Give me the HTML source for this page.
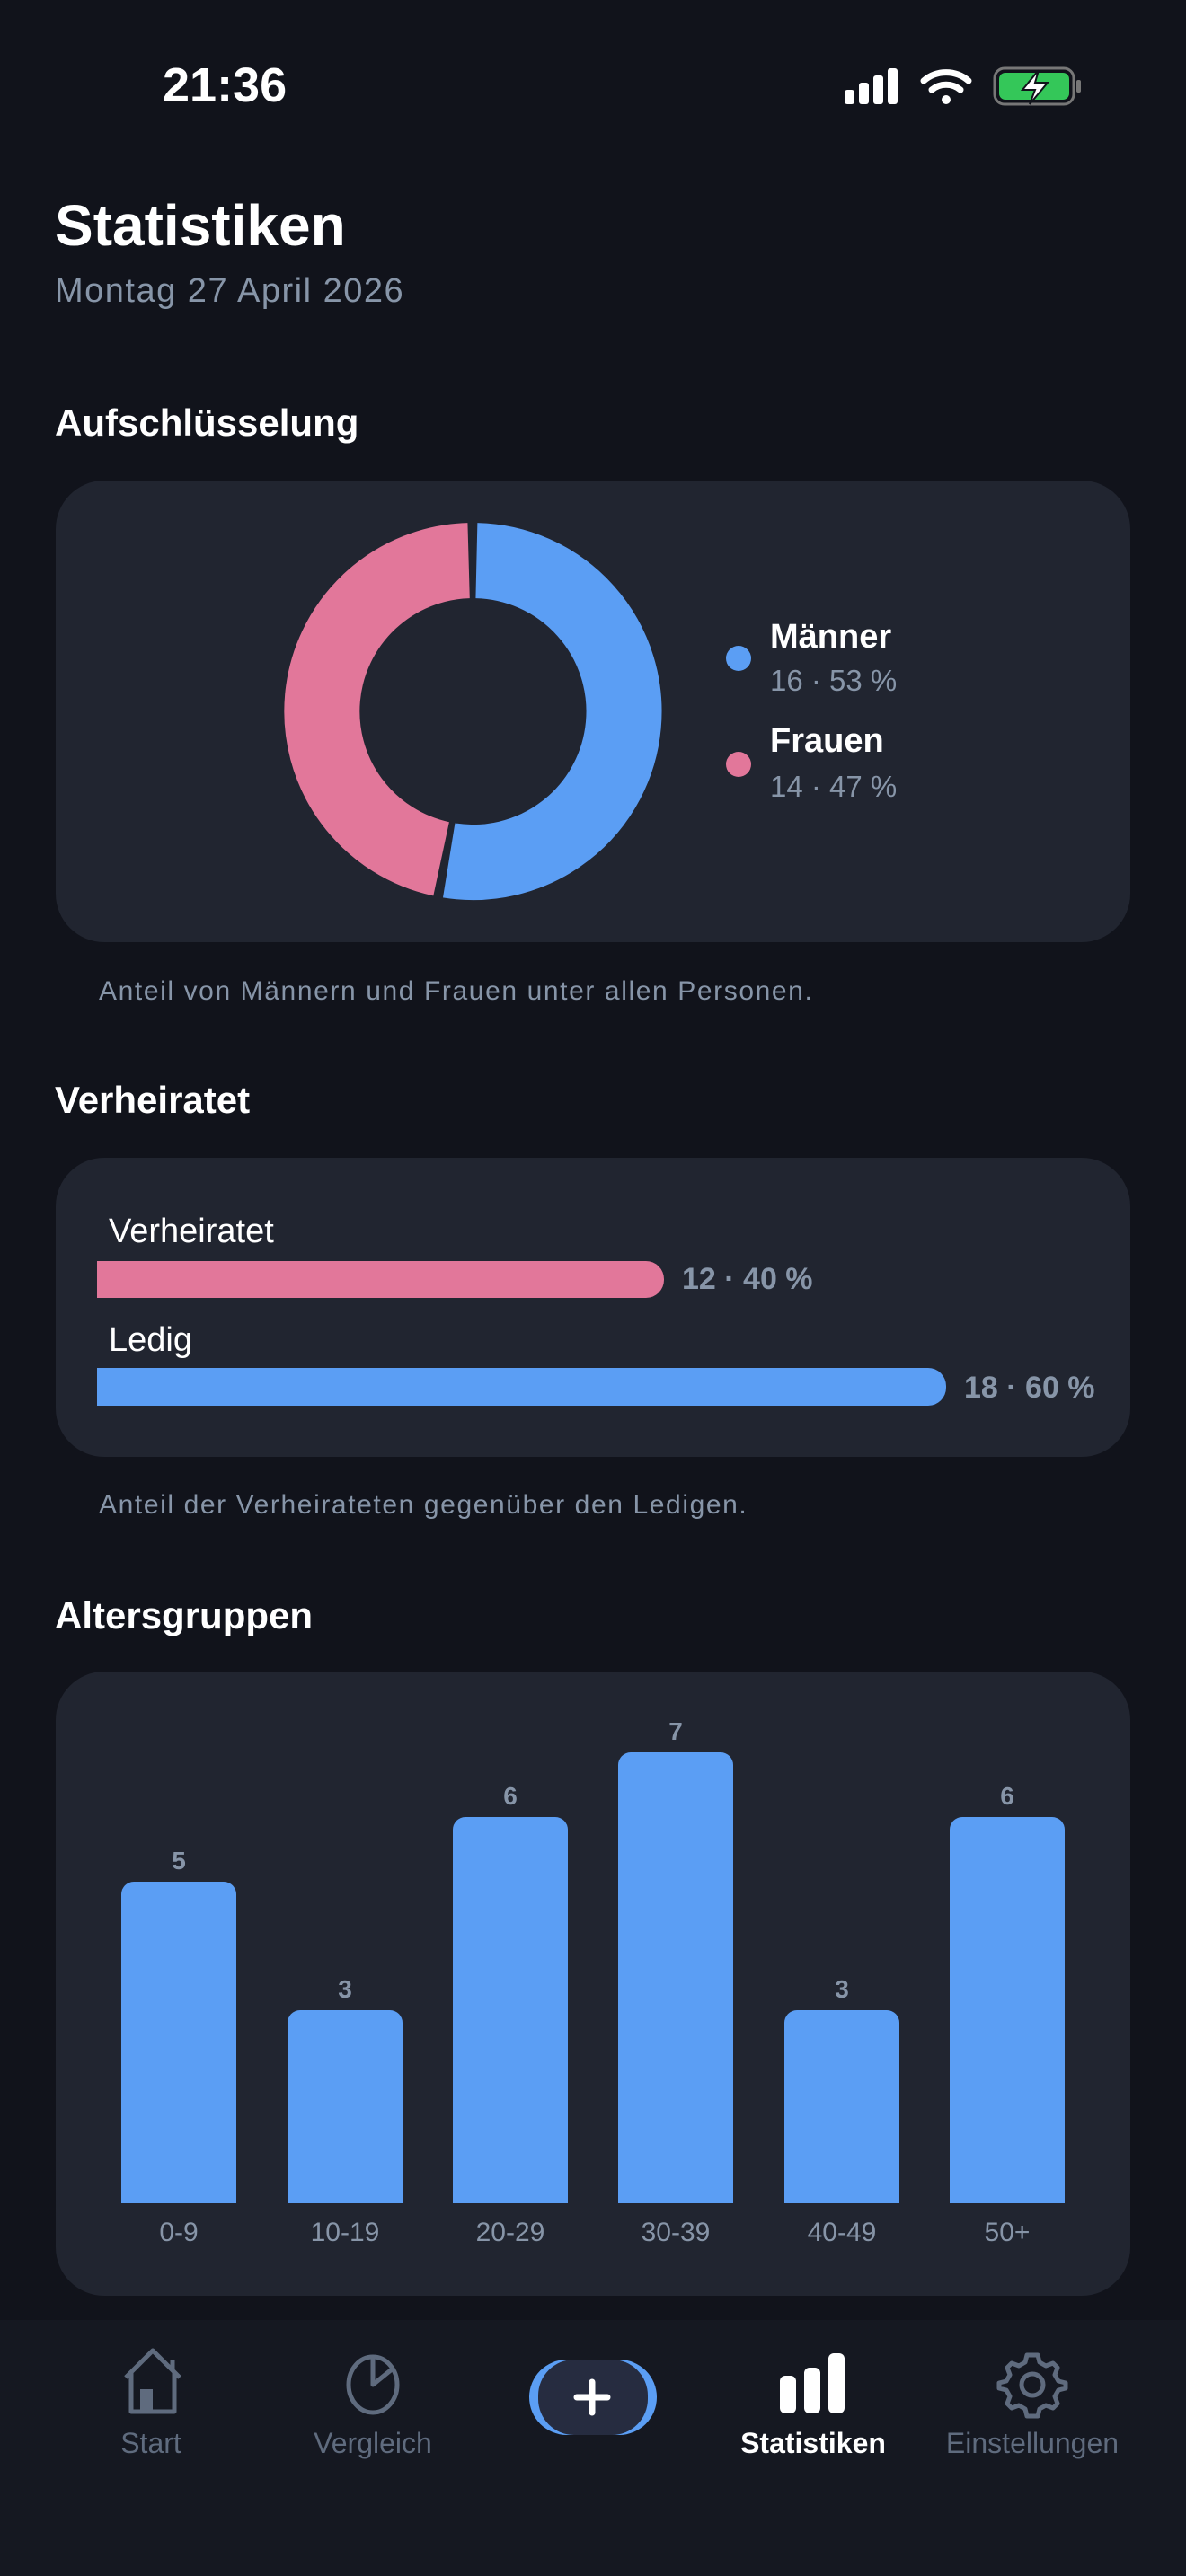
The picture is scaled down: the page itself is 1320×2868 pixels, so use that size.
<!DOCTYPE html>
<html><head><meta charset="utf-8"><style>
*{margin:0;padding:0;box-sizing:border-box}
body{width:1320px;height:2868px;background:#11131b;position:relative;overflow:hidden;font-family:"Liberation Sans",sans-serif;color:#fff}
.a{position:absolute;white-space:nowrap}
.card{position:absolute;left:62px;width:1196px;background:#212530;border-radius:54px}
.h{font-weight:bold;font-size:42px;left:61px}
.cap{font-size:30px;color:#8795a8;left:110px;letter-spacing:1.6px}
.g{color:#8795a8}
.bar{position:absolute;background:#5b9ef4;border-radius:14px 14px 0 0;width:128px}
.v{position:absolute;width:128px;text-align:center;font-weight:bold;font-size:28px;color:#8795a8}
.xl{position:absolute;width:160px;text-align:center;font-size:30px;color:#8795a8;top:2469px}
.nl{position:absolute;width:260px;text-align:center;font-size:32px;color:#5f6b7e;top:2702px}
</style></head><body>
<div class="a" style="left:181px;top:64px;font-size:54px;font-weight:bold">21:36</div>
<svg class="a" style="left:930px;top:70px" width="280" height="52" viewBox="0 0 280 52">
<rect x="10" y="30" width="11" height="16" rx="3" fill="#fff"/><rect x="26" y="22" width="11" height="24" rx="3" fill="#fff"/><rect x="42" y="14" width="11" height="32" rx="3" fill="#fff"/><rect x="58" y="6" width="11" height="40" rx="3" fill="#fff"/>
<path d="M98 20 A38 38 0 0 1 148 20" stroke="#fff" stroke-width="7" fill="none" stroke-linecap="round"/>
<path d="M107 30 A25 25 0 0 1 139 30" stroke="#fff" stroke-width="7" fill="none" stroke-linecap="round"/>
<circle cx="123" cy="41" r="5" fill="#fff"/>
<rect x="177" y="6" width="88" height="40" rx="11" fill="none" stroke="#777" stroke-width="3"/>
<rect x="182" y="11" width="78" height="30" rx="7" fill="#34c759"/>
<rect x="268" y="19" width="5" height="14" rx="2" fill="#777"/>
<path d="M226 8 L208 30 L222 30 L216 46 L236 22 L222 22 Z" fill="#fff" stroke="#11131b" stroke-width="2"/>
</svg>
<div class="a" style="left:61px;top:214px;font-size:64px;font-weight:bold">Statistiken</div>
<div class="a g" style="left:61px;top:303px;font-size:38px;letter-spacing:1.5px">Montag 27 April 2026</div>

<div class="a h" style="top:447px">Aufschlüsselung</div>
<div class="card" style="top:535px;height:514px"></div>
<svg class="a" style="left:0;top:0" width="1320" height="1100">
<path d="M530.4 624.1 A168 168 0 1 1 499.7 957.9" stroke="#5b9ef4" stroke-width="84" fill="none"/>
<path d="M491.1 956.3 A168 168 0 0 1 521.6 624.1" stroke="#e2779a" stroke-width="84" fill="none"/>
<circle cx="822" cy="733" r="14" fill="#5b9ef4"/>
<circle cx="822" cy="851" r="14" fill="#e2779a"/>
</svg>
<div class="a" style="left:857px;top:688px;font-size:38px;font-weight:bold">Männer</div>
<div class="a g" style="left:857px;top:739px;font-size:33px">16 · 53 %</div>
<div class="a" style="left:857px;top:804px;font-size:38px;font-weight:bold">Frauen</div>
<div class="a g" style="left:857px;top:857px;font-size:33px">14 · 47 %</div>
<div class="a cap" style="top:1087px">Anteil von Männern und Frauen unter allen Personen.</div>

<div class="a h" style="top:1201px">Verheiratet</div>
<div class="card" style="top:1289px;height:333px"></div>
<div class="a" style="left:121px;top:1350px;font-size:38px">Verheiratet</div>
<div class="a" style="left:108px;top:1404px;width:631px;height:41px;background:#e2779a;border-radius:0 20px 20px 0"></div>
<div class="a g" style="left:759px;top:1405px;font-size:34px;font-weight:bold">12 · 40 %</div>
<div class="a" style="left:121px;top:1471px;font-size:38px">Ledig</div>
<div class="a" style="left:108px;top:1523px;width:945px;height:42px;background:#5b9ef4;border-radius:0 20px 20px 0"></div>
<div class="a g" style="left:1073px;top:1526px;font-size:34px;font-weight:bold">18 · 60 %</div>
<div class="a cap" style="top:1659px">Anteil der Verheirateten gegenüber den Ledigen.</div>

<div class="a h" style="top:1775px">Altersgruppen</div>
<div class="card" style="top:1861px;height:695px"></div>
<div class="bar" style="left:135px;top:2095px;height:358px"></div><div class="v" style="left:135px;top:2056px">5</div>
<div class="bar" style="left:320px;top:2238px;height:215px"></div><div class="v" style="left:320px;top:2199px">3</div>
<div class="bar" style="left:504px;top:2023px;height:430px"></div><div class="v" style="left:504px;top:1984px">6</div>
<div class="bar" style="left:688px;top:1951px;height:502px"></div><div class="v" style="left:688px;top:1912px">7</div>
<div class="bar" style="left:873px;top:2238px;height:215px"></div><div class="v" style="left:873px;top:2199px">3</div>
<div class="bar" style="left:1057px;top:2023px;height:430px"></div><div class="v" style="left:1057px;top:1984px">6</div>
<div class="xl" style="left:119px">0-9</div><div class="xl" style="left:304px">10-19</div><div class="xl" style="left:488px">20-29</div>
<div class="xl" style="left:672px">30-39</div><div class="xl" style="left:857px">40-49</div><div class="xl" style="left:1041px">50+</div>

<div class="a" style="left:0;top:2583px;width:1320px;height:285px;background:#151821"></div>
<svg class="a" style="left:0;top:2600px" width="1320" height="120">
<g fill="none" stroke="#5f6b7e" stroke-width="5" stroke-linejoin="round">
<path d="M140 47 L170 17 L200 47 M146 42 V85 H194 V42 M192 28 V40"/>
<ellipse cx="415" cy="55" rx="27" ry="31"/><path d="M415 24 V55 L436 38"/>
<circle cx="1149" cy="55" r="12"/>
<path d="M1149 22 l6 0 2 8 7 4 8-3 5 5-3 8 4 7 8 2 0 6-8 2-4 7 3 8-5 5-8-3-7 4-2 8h-12l-2-8-7-4-8 3-5-5 3-8-4-7-8-2 0-6 8-2 4-7-3-8 5-5 8 3 7-4 2-8z"/>
</g>
<rect x="156" y="60" width="14" height="24" fill="#5f6b7e"/>
<rect x="868" y="45" width="18" height="42" rx="6" fill="#fff"/><rect x="895" y="36" width="18" height="51" rx="6" fill="#fff"/><rect x="922" y="20" width="18" height="67" rx="6" fill="#fff"/>
<rect x="589" y="27" width="142" height="84" rx="42" fill="#5b9ef4"/>
<rect x="599" y="27" width="122" height="84" rx="40" fill="#262c40"/>
<path d="M659 52 V86 M642 69 H676" stroke="#fff" stroke-width="7" stroke-linecap="round"/>
</svg>
<div class="nl" style="left:38px">Start</div>
<div class="nl" style="left:285px">Vergleich</div>
<div class="nl" style="left:775px;color:#fff;font-weight:bold">Statistiken</div>
<div class="nl" style="left:1019px">Einstellungen</div>
</body></html>
